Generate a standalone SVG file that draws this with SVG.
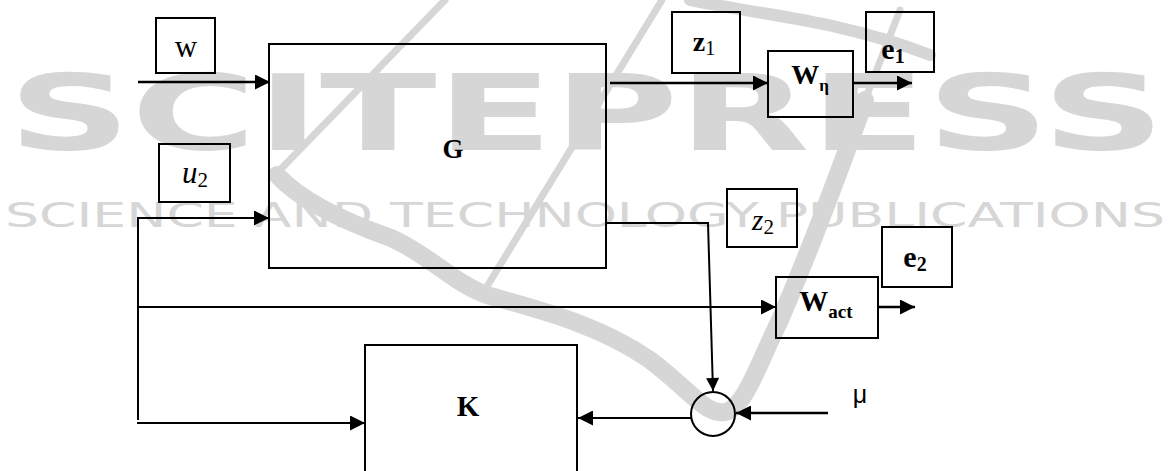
<svg xmlns="http://www.w3.org/2000/svg" width="1171" height="471" viewBox="0 0 1171 471">
<style>
.box{fill:none;stroke:#000;stroke-width:2}
.ln{fill:none;stroke:#000;stroke-width:2}
.tk{stroke-width:2.6}
.lbl{font-family:"Liberation Serif","Times New Roman",serif;fill:#000}
.b{font-weight:bold}
.wm{font-family:"DejaVu Sans","Liberation Sans",sans-serif;fill:#d6d6d6}
.sw{fill:none;stroke:#d6d6d6;stroke-linecap:round;stroke-linejoin:round}
</style>
<defs>
<marker id="ah" viewBox="0 0 10 10" refX="10" refY="5" markerWidth="15" markerHeight="15" markerUnits="userSpaceOnUse" orient="auto">
<path d="M0,0 L10,5 L0,10 z" fill="#000"/>
</marker>
<marker id="ahs" viewBox="0 0 10 10" refX="10" refY="5" markerWidth="14" markerHeight="13" markerUnits="userSpaceOnUse" orient="auto">
<path d="M0,0 L10,5 L0,10 z" fill="#000"/>
</marker>
</defs>
<rect width="1171" height="471" fill="#fff"/>
<g id="watermark">
<text class="wm" x="8" y="150" font-size="105" font-weight="bold" textLength="1157" lengthAdjust="spacingAndGlyphs">SCITEPRESS</text>
<text class="wm" x="5" y="227" font-size="33" textLength="1160" lengthAdjust="spacingAndGlyphs">SCIENCE AND TECHNOLOGY PUBLICATIONS</text>
<path class="sw" stroke-width="7" d="M445,0 L277,173"/>
<path class="sw" stroke-width="7" d="M662,0 L483,293"/>
<path class="sw" stroke-width="18" d="M277,175 C300,200 340,220 391,238 C430,255 455,285 490,296 C540,310 600,325 650,360 C690,390 705,415 725,412 C745,408 760,360 780,320 C810,250 840,170 865,100"/>
<path class="sw" stroke-width="7" d="M865,100 L900,10"/>
<path class="sw" stroke-width="12" d="M690,0 C760,15 840,20 930,55"/>
</g>
<g id="connectors">
<path class="ln tk" d="M138,82 H270" marker-end="url(#ah)"/>
<path class="ln" d="M138,420 V218 H269" marker-end="url(#ah)"/>
<path class="ln" d="M138,307 H776" marker-end="url(#ah)"/>
<path class="ln" d="M137,423 H365" marker-end="url(#ah)"/>
<path class="ln tk" d="M610,83 H768" marker-end="url(#ah)"/>
<path class="ln tk" d="M853,83 H912" marker-end="url(#ah)"/>
<path class="ln" d="M607,223 H708 L713,391" marker-end="url(#ahs)"/>
<path class="ln tk" d="M878,307 H915" marker-end="url(#ah)"/>
<path class="ln" d="M691,418 H578" marker-end="url(#ah)"/>
<path class="ln tk" d="M828,413 H736" marker-end="url(#ah)"/>
</g>
<g id="node-w"><rect class="box" x="156" y="18" width="59" height="55"/><text class="lbl" font-family="Liberation Serif, serif" x="186" y="57" font-size="31" text-anchor="middle">w</text></g>
<g id="node-G"><rect class="box" x="269" y="44" width="337" height="224"/><text class="lbl b" font-family="Liberation Serif, serif" x="453" y="158" font-size="27" text-anchor="middle">G</text></g>
<g id="node-u2"><rect class="box" x="159" y="144" width="71" height="58"/><text class="lbl" font-family="Liberation Serif, serif" x="195" y="183" font-size="31" text-anchor="middle"><tspan font-style="italic">u</tspan><tspan font-size="21" dy="4">2</tspan></text></g>
<g id="node-z1"><rect class="box" x="672" y="12" width="68" height="61"/><text class="lbl" font-family="Liberation Serif, serif" x="704" y="51" font-size="28" text-anchor="middle"><tspan font-weight="bold">z</tspan><tspan font-size="20" dy="4">1</tspan></text></g>
<g id="node-Weta"><rect class="box" x="768" y="51" width="85" height="66"/><text class="lbl b" font-family="Liberation Serif, serif" x="810" y="84" font-size="28" text-anchor="middle">W<tspan font-size="17" dy="7">η</tspan></text></g>
<g id="node-e1"><rect class="box" x="866" y="12" width="68" height="60"/><text class="lbl b" font-family="Liberation Serif, serif" x="893" y="59" font-size="30" text-anchor="middle">e<tspan font-size="20" dy="4">1</tspan></text></g>
<g id="node-z2"><rect class="box" x="727" y="189" width="70" height="58"/><text class="lbl" font-family="Liberation Serif, serif" x="763" y="230" font-size="29" text-anchor="middle"><tspan font-style="italic">z</tspan><tspan font-size="21" dy="4">2</tspan></text></g>
<g id="node-e2"><rect class="box" x="882" y="227" width="70" height="60"/><text class="lbl b" font-family="Liberation Serif, serif" x="915" y="267" font-size="30" text-anchor="middle">e<tspan font-size="20" dy="4">2</tspan></text></g>
<g id="node-Wact"><rect class="box" x="776" y="277" width="102" height="61"/><text class="lbl b" font-family="Liberation Serif, serif" x="826" y="311" font-size="29" text-anchor="middle">W<tspan font-size="19" dy="7">act</tspan></text></g>
<g id="node-sum"><circle cx="713" cy="414" r="22" fill="none" stroke="#000" stroke-width="2"/></g>
<g id="node-K"><rect class="box" x="365" y="345" width="212" height="140"/><text class="lbl b" font-family="Liberation Serif, serif" x="468" y="416" font-size="29" text-anchor="middle">K</text></g>
<g id="label-mu"><text x="860" y="403" font-family="Liberation Sans, Arial, sans-serif" font-size="25" text-anchor="middle">μ</text></g>
</svg>
